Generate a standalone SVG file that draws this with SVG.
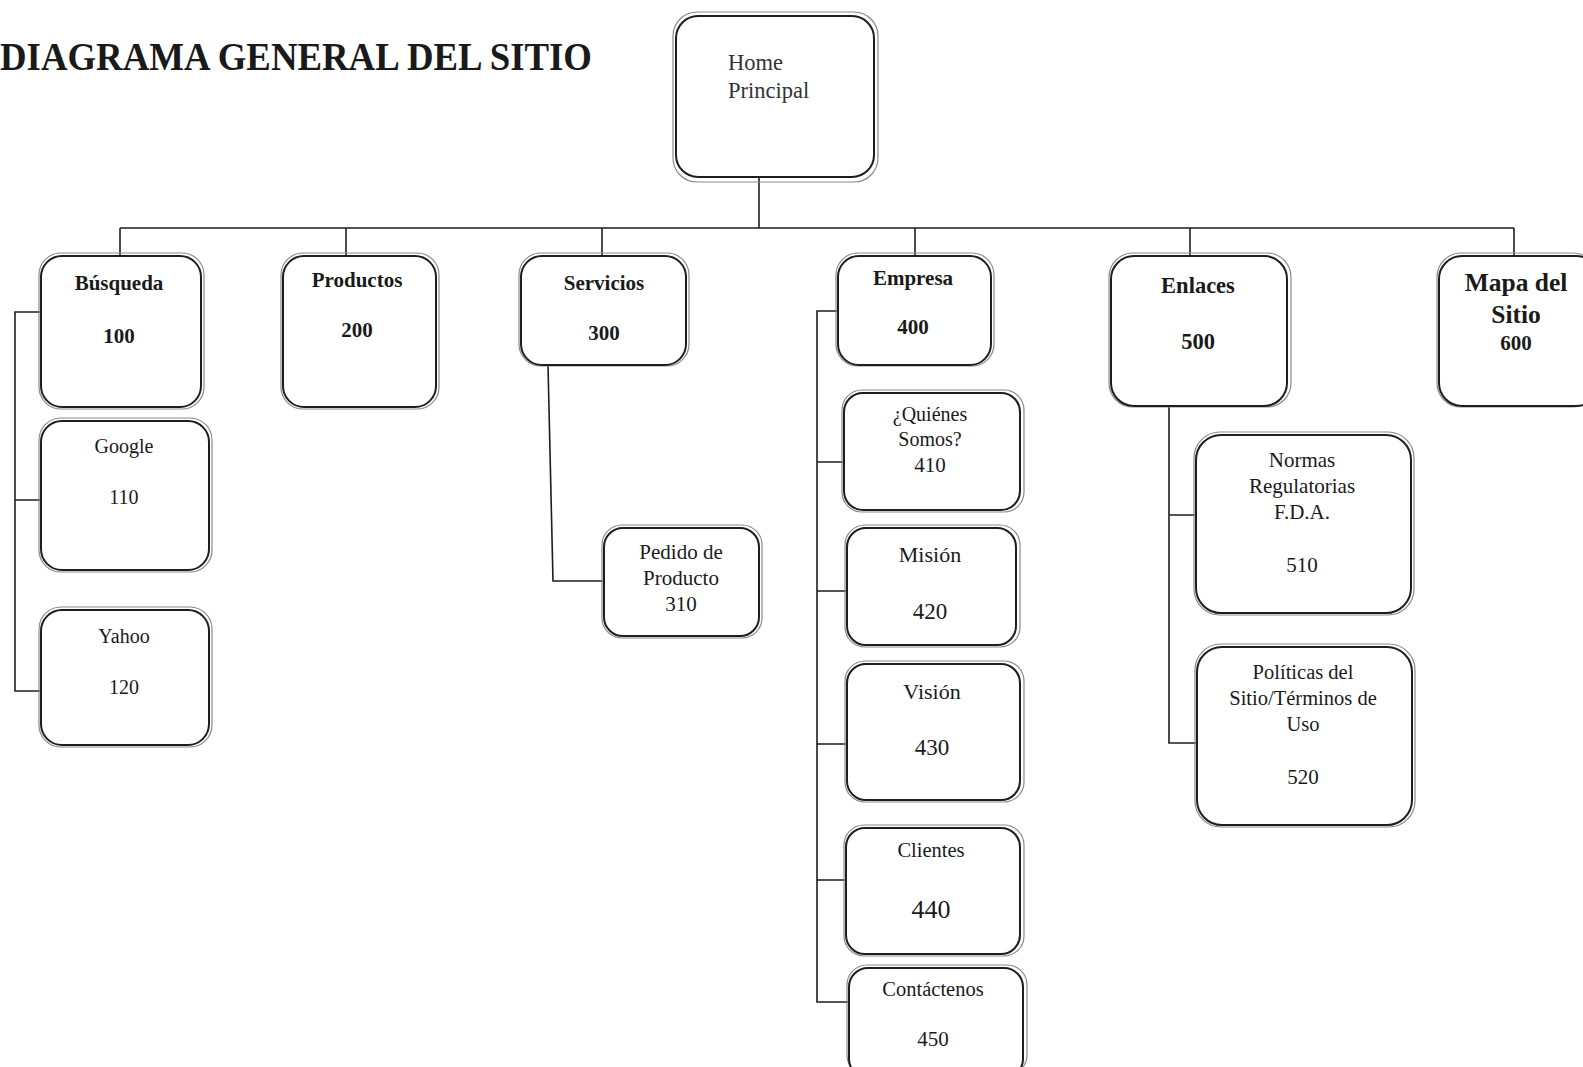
<svg xmlns="http://www.w3.org/2000/svg" width="1583" height="1067" viewBox="0 0 1583 1067">
<style>
.o{fill:none;stroke:#8a8a8a;stroke-width:1.2}
.b{fill:#fff;stroke:#1e1e1e;stroke-width:2}
.c{fill:none;stroke:#1e1e1e;stroke-width:1.6}
text{font-family:"Liberation Serif","Times New Roman",serif;fill:#1a1a1a;text-anchor:middle}
.h{font-weight:bold}
</style>
<rect width="1583" height="1067" fill="#fff"/>
<text x="0" y="70" style="text-anchor:start;font-weight:bold;font-size:40px" textLength="592" lengthAdjust="spacingAndGlyphs">DIAGRAMA GENERAL DEL SITIO</text>
<g id="connectors">
<path class="c" d="M759 178V228M120 228H1514M120 228V255M346 228V255M602 228V255M915 228V255M1190 228V255M1514 228V255"/>
<path class="c" d="M40 312H15V691H42M15 500H42"/>
<path class="c" d="M548 365L553 581H605"/>
<path class="c" d="M838 311H817V1002H848M817 462H845M817 591H848M817 744H848M817 880H847"/>
<path class="c" d="M1169 402V743H1198M1169 515H1197"/>
</g>
<g id="home"><rect class="o" x="673" y="12" width="205" height="170" rx="24"/><rect class="b" x="676" y="16" width="198" height="161" rx="22"/>
<text x="728" y="70" style="text-anchor:start;font-size:22.5px;fill:#333">Home</text><text x="728" y="98" style="text-anchor:start;font-size:22.5px;fill:#333">Principal</text></g>
<g id="busqueda"><rect class="o" x="39" y="253" width="165" height="156" rx="22"/><rect class="b" x="41" y="256" width="160" height="151" rx="21"/>
<text class="h" x="119" y="290" font-size="21">Búsqueda</text><text class="h" x="119" y="343" font-size="21">100</text></g>
<g id="productos"><rect class="o" x="281" y="253" width="158" height="156" rx="22"/><rect class="b" x="283" y="256" width="153" height="151" rx="21"/>
<text class="h" x="357" y="287" font-size="21">Productos</text><text class="h" x="357" y="337" font-size="21">200</text></g>
<g id="servicios"><rect class="o" x="519" y="253" width="170" height="113" rx="22"/><rect class="b" x="521" y="256" width="165" height="109" rx="21"/>
<text class="h" x="604" y="290" font-size="21">Servicios</text><text class="h" x="604" y="340" font-size="21">300</text></g>
<g id="empresa"><rect class="o" x="836" y="253" width="158" height="113" rx="22"/><rect class="b" x="838" y="256" width="153" height="109" rx="21"/>
<text class="h" x="913" y="285" font-size="21">Empresa</text><text class="h" x="913" y="334" font-size="21">400</text></g>
<g id="enlaces"><rect class="o" x="1109" y="253" width="182" height="154" rx="24"/><rect class="b" x="1111" y="256" width="176" height="150" rx="23"/>
<text class="h" x="1198" y="293" font-size="22.5">Enlaces</text><text class="h" x="1198" y="349" font-size="22.5">500</text></g>
<g id="mapa"><rect class="o" x="1437" y="253" width="160" height="154" rx="24"/><rect class="b" x="1439" y="256" width="160" height="150" rx="23"/>
<text class="h" x="1516" y="291" font-size="25.5">Mapa del</text><text class="h" x="1516" y="323" font-size="25.5">Sitio</text><text class="h" x="1516" y="350" font-size="21">600</text></g>
<g id="google"><rect class="o" x="39" y="418" width="173" height="154" rx="22"/><rect class="b" x="41" y="421" width="168" height="149" rx="21"/>
<text x="124" y="453" font-size="20">Google</text><text x="124" y="504" font-size="20">110</text></g>
<g id="yahoo"><rect class="o" x="39" y="607" width="173" height="140" rx="22"/><rect class="b" x="41" y="610" width="168" height="135" rx="21"/>
<text x="124" y="643" font-size="20">Yahoo</text><text x="124" y="694" font-size="20">120</text></g>
<g id="pedido"><rect class="o" x="602" y="525" width="160" height="113" rx="20"/><rect class="b" x="604" y="528" width="155" height="108" rx="19"/>
<text x="681" y="559" font-size="21">Pedido de</text><text x="681" y="585" font-size="21">Producto</text><text x="681" y="611" font-size="21">310</text></g>
<g id="quienes"><rect class="o" x="842" y="390" width="182" height="122" rx="20"/><rect class="b" x="844" y="393" width="176" height="117" rx="19"/>
<text x="930" y="421" font-size="20">¿Quiénes</text><text x="930" y="446" font-size="20">Somos?</text><text x="930" y="472" font-size="21">410</text></g>
<g id="mision"><rect class="o" x="845" y="525" width="175" height="122" rx="20"/><rect class="b" x="847" y="528" width="169" height="117" rx="19"/>
<text x="930" y="562" font-size="22">Misión</text><text x="930" y="619" font-size="23">420</text></g>
<g id="vision"><rect class="o" x="845" y="661" width="179" height="141" rx="20"/><rect class="b" x="847" y="664" width="173" height="136" rx="19"/>
<text x="932" y="699" font-size="22">Visión</text><text x="932" y="755" font-size="23">430</text></g>
<g id="clientes"><rect class="o" x="844" y="825" width="180" height="131" rx="20"/><rect class="b" x="846" y="828" width="174" height="126" rx="19"/>
<text x="931" y="857" font-size="20.5">Clientes</text><text x="931" y="918" font-size="26">440</text></g>
<g id="contactenos"><rect class="o" x="847" y="965" width="180" height="110" rx="20"/><rect class="b" x="849" y="968" width="174" height="110" rx="19"/>
<text x="933" y="996" font-size="20.5">Contáctenos</text><text x="933" y="1046" font-size="21">450</text></g>
<g id="normas"><rect class="o" x="1194" y="432" width="220" height="183" rx="26"/><rect class="b" x="1196" y="435" width="215" height="178" rx="25"/>
<text x="1302" y="467" font-size="21">Normas</text><text x="1302" y="493" font-size="21">Regulatorias</text><text x="1302" y="519" font-size="21">F.D.A.</text><text x="1302" y="572" font-size="21">510</text></g>
<g id="politicas"><rect class="o" x="1195" y="644" width="220" height="183" rx="26"/><rect class="b" x="1197" y="647" width="215" height="178" rx="25"/>
<text x="1303" y="679" font-size="20.5">Políticas del</text><text x="1303" y="705" font-size="20.5">Sitio/Términos de</text><text x="1303" y="731" font-size="20.5">Uso</text><text x="1303" y="784" font-size="21">520</text></g>
</svg>
